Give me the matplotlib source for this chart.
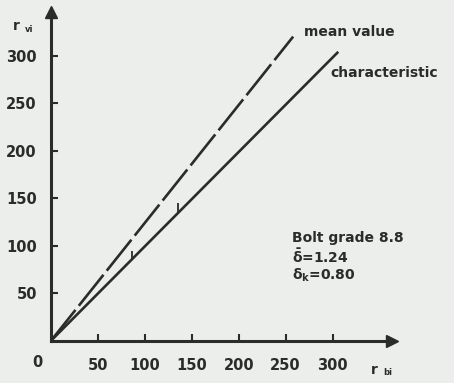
import matplotlib.pyplot as plt

# values
mean_x = [0, 258]
mean_y = [0, 320]
char_x = [0, 305]
char_y = [0, 303]
mark_x = [86, 135]
mark_lo = [85, 134]
mark_hi = [95, 145]
ticks = [50, 100, 150, 200, 250, 300]

ink = '#2b2b2b'
bg = '#eceeeb'
plt.rcParams['font.family'] = 'DejaVu Sans'
plt.rcParams['font.weight'] = 'bold'
plt.rcParams['mathtext.default'] = 'regular'

fig = plt.figure(figsize=(4.54, 3.83), dpi=100, facecolor=bg)
ax = fig.add_axes([0.112, 0.11, 0.751, 0.859], facecolor=bg)

ax.plot(mean_x, mean_y, color=ink, lw=1.9, dashes=(15, 2))
ax.plot(char_x, char_y, color=ink, lw=1.9)
ax.vlines(mark_x, mark_lo, mark_hi, color=ink, lw=1.3)

ax.set_xlim(0, 363)
ax.set_ylim(0, 346)
ax.spines['top'].set_visible(False)
ax.spines['right'].set_visible(False)
for s in ['left', 'bottom']:
    ax.spines[s].set_linewidth(2.2)
    ax.spines[s].set_color(ink)
ax.plot(1, 0, '>', color=ink, ms=9, transform=ax.transAxes, clip_on=False)
ax.plot(0, 1, '^', color=ink, ms=9, transform=ax.transAxes, clip_on=False)

ax.set_xticks(ticks)
ax.set_yticks(ticks)
ax.tick_params(direction='in', length=5, width=1.5, color=ink, labelcolor=ink,
               labelsize=10.5)
ax.tick_params(axis='x', pad=12)
ax.tick_params(axis='y', pad=10)
ax.text(-0.04, -0.065, '0', transform=ax.transAxes, ha='center', va='center',
        color=ink, fontsize=10.5)

ax.text(-0.11, 0.945, 'r', transform=ax.transAxes, color=ink, fontsize=10)
ax.text(-0.075, 0.94, 'vi', transform=ax.transAxes, color=ink, fontsize=6)
ax.text(0.94, -0.1, 'r', transform=ax.transAxes, color=ink, fontsize=10)
ax.text(0.975, -0.105, 'bi', transform=ax.transAxes, color=ink, fontsize=6)

ax.text(270, 325, 'mean value', color=ink, fontsize=10, va='center')
ax.text(298, 282, 'characteristic', color=ink, fontsize=10, va='center')
ax.text(257, 108, 'Bolt grade 8.8', color=ink, fontsize=10, va='center')
ax.text(257, 89, r'$\bar{δ}$=1.24', color=ink, fontsize=10, va='center')
ax.text(257, 69, r'$δ_k$=0.80', color=ink, fontsize=10, va='center')

fig.savefig('out.png', dpi=100, facecolor=bg)
